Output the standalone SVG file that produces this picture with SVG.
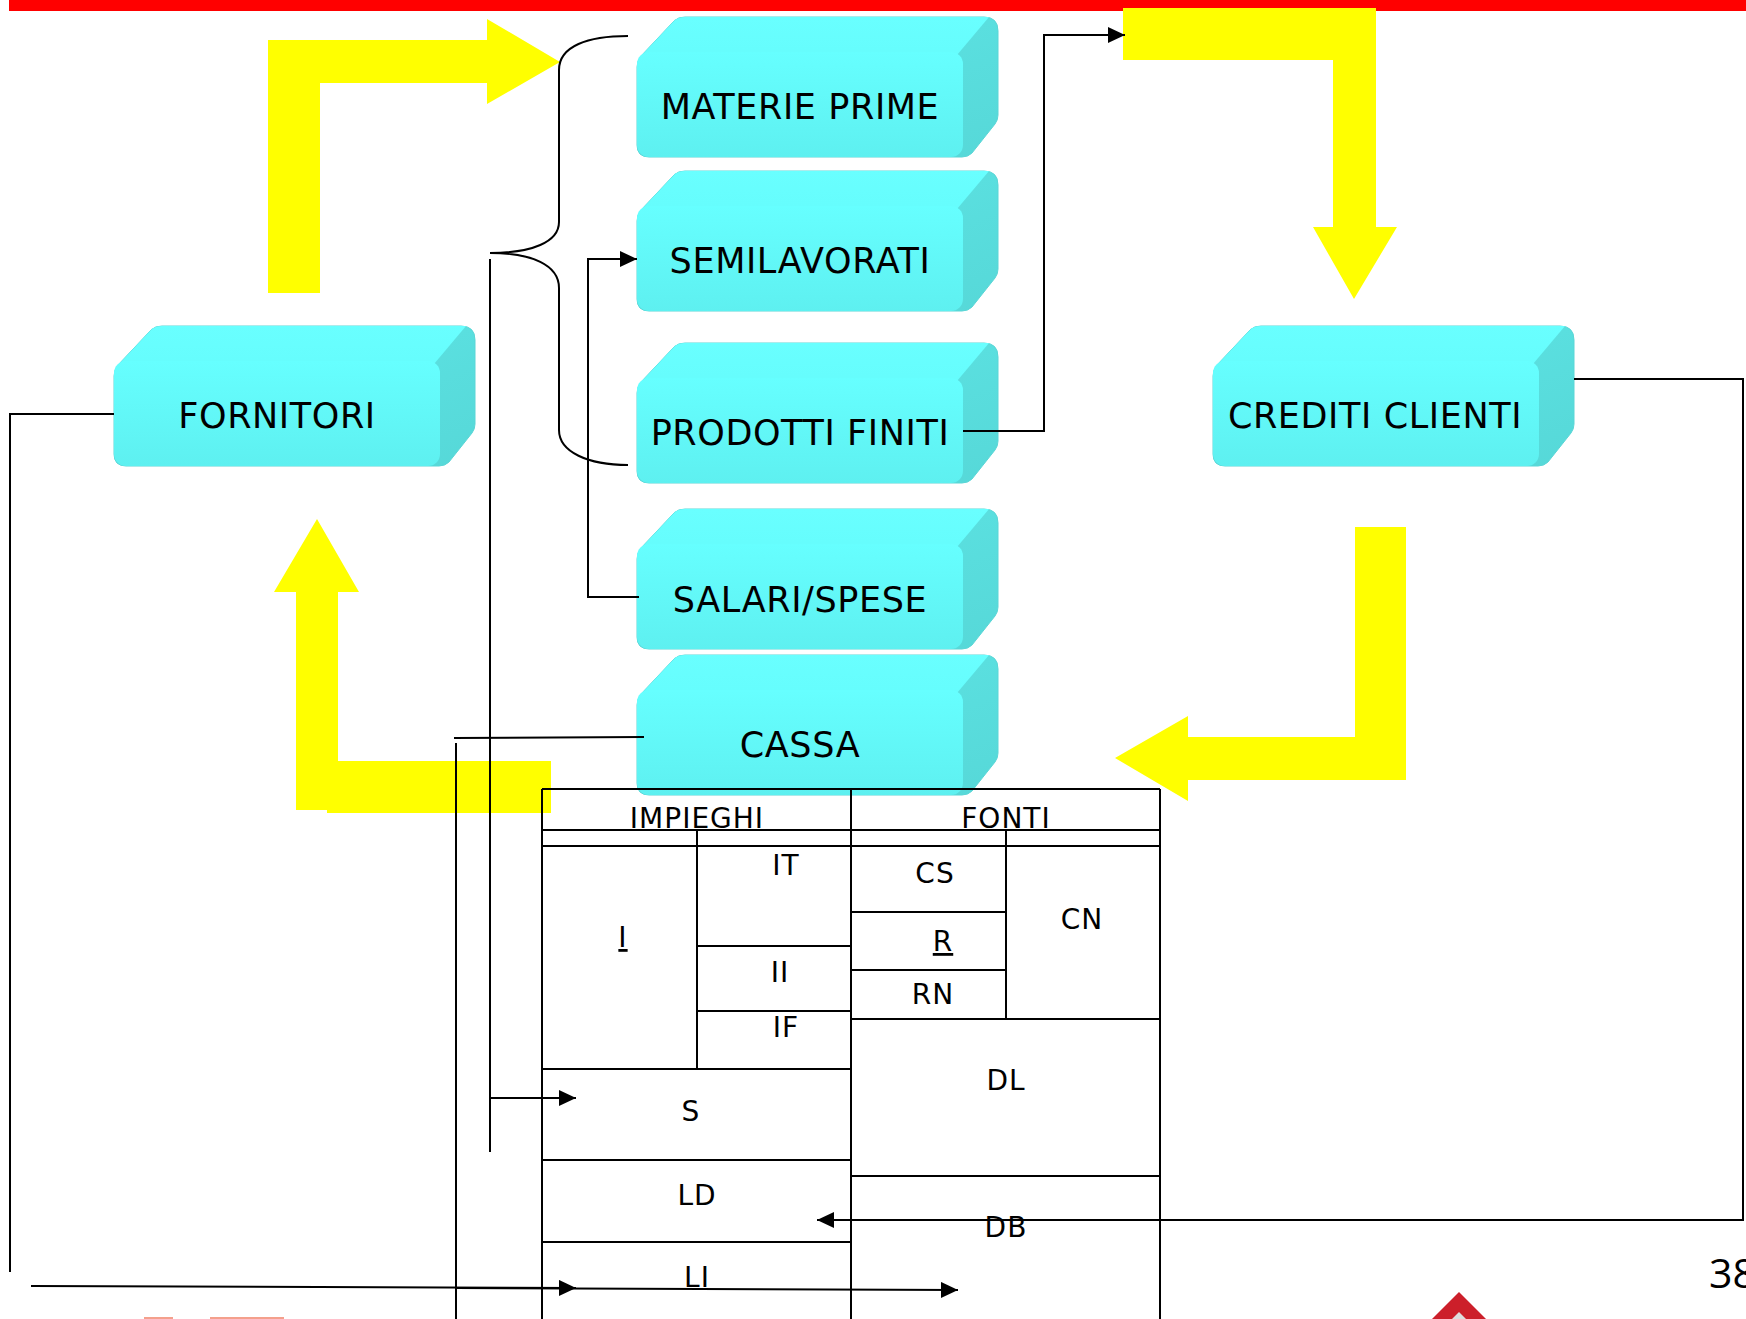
<svg xmlns="http://www.w3.org/2000/svg" xmlns:xlink="http://www.w3.org/1999/xlink" width="1746" height="1319" viewBox="0 0 1746 1319">
<style>
.lbl{font-family:"DejaVu Sans",Verdana,sans-serif;font-size:35px;text-anchor:middle;fill:#000;letter-spacing:0.6px}
.tbl{font-family:"DejaVu Sans",Verdana,sans-serif;font-size:28px;text-anchor:middle;fill:#000;letter-spacing:1px}
.ln{stroke:#000;stroke-width:2;fill:none}
.yel{fill:#FFFF00}
</style>
<defs>
<linearGradient id="gFront" x1="0" y1="0" x2="0" y2="1">
<stop offset="0" stop-color="#66FFFF"/><stop offset="1" stop-color="#5EF0F0"/>
</linearGradient>
<linearGradient id="gTop" x1="0" y1="0" x2="0" y2="1">
<stop offset="0" stop-color="#69FFFF"/><stop offset="1" stop-color="#64FCFC"/>
</linearGradient>
<linearGradient id="gSide" x1="0" y1="0" x2="1" y2="1">
<stop offset="0" stop-color="#5EE6E6"/><stop offset="1" stop-color="#56D8D8"/>
</linearGradient>
<marker id="arr" viewBox="0 0 17 16" refX="17" refY="8" markerWidth="17" markerHeight="16" markerUnits="userSpaceOnUse" orient="auto">
<path d="M0,0 L17,8 L0,16 Z" fill="#000"/>
</marker>
<g id="cube">
<path fill="url(#gSide)" stroke="#5AD6D6" stroke-width="1" d="M0,50 Q0,44 4,39 L37,4 Q41,0 48,0 L347,0 Q361,0 361,14 L361,98 Q361,103 358,107 L335,136 Q331,140 325,140 L12,140 Q0,140 0,128 Z"/>
<path fill="url(#gTop)" d="M0,50 Q0,44 4,39 L37,4 Q41,0 48,0 L352,0 L320,38 L0,52 Z"/>
<rect x="0" y="35" width="326" height="105" rx="12" fill="url(#gFront)"/>
</g>
</defs>
<rect x="0" y="0" width="1746" height="1319" fill="#fff"/>
<rect x="9" y="0" width="1737" height="11" fill="#FF0000"/>
<g id="flows">
<polygon class="yel" points="268,293 268,40 487,40 487,19 560,62 487,104 487,83 320,83 320,293"/>
<polygon class="yel" points="1123,8 1376,8 1376,227 1397,227 1354,299 1313,227 1333,227 1333,60 1123,60"/>
<polygon class="yel" points="296,592 274,592 317,519 359,592 338,592 338,761 551,761 551,813 327,813 327,810 296,810"/>
<polygon class="yel" points="1355,527 1406,527 1406,780 1188,780 1188,801 1115,758 1188,716 1188,737 1355,737"/>
</g>
<g id="node-materie" transform="translate(637,17)"><use href="#cube"/><text class="lbl" x="163" y="102">MATERIE PRIME</text></g>
<g id="node-semilavorati" transform="translate(637,171)"><use href="#cube"/><text class="lbl" x="163" y="102">SEMILAVORATI</text></g>
<g id="node-prodotti" transform="translate(637,343)"><use href="#cube"/><text class="lbl" x="163" y="102">PRODOTTI FINITI</text></g>
<g id="node-salari" transform="translate(637,509)"><use href="#cube"/><text class="lbl" x="163" y="103">SALARI/SPESE</text></g>
<g id="node-cassa" transform="translate(637,655)"><use href="#cube"/><text class="lbl" x="163" y="102">CASSA</text></g>
<g id="node-fornitori" transform="translate(114,326)"><use href="#cube"/><text class="lbl" x="163" y="102">FORNITORI</text></g>
<g id="node-crediti" transform="translate(1213,326)"><use href="#cube"/><text class="lbl" x="162" y="102">CREDITI CLIENTI</text></g>
<g id="table">
<path class="ln" d="M542,789 H1160 M542,789 V1319 M851,789 V1319 M1160,789 V1319 M542,830 H1160 M542,846 H1160 M697,830 V1069 M1006,830 V1019 M697,946 H851 M697,1011 H851 M542,1069 H851 M542,1160 H851 M542,1242 H851 M851,912 H1006 M851,970 H1006 M851,1019 H1160 M851,1176 H1160"/>
<text class="tbl" x="697" y="828">IMPIEGHI</text>
<text class="tbl" x="1006" y="828">FONTI</text>
<text class="tbl" x="786" y="875">IT</text>
<text class="tbl" x="623" y="947" text-decoration="underline">I</text>
<text class="tbl" x="780" y="982">II</text>
<text class="tbl" x="786" y="1037">IF</text>
<text class="tbl" x="935" y="883">CS</text>
<text class="tbl" x="943" y="951" text-decoration="underline">R</text>
<text class="tbl" x="933" y="1004">RN</text>
<text class="tbl" x="1082" y="929">CN</text>
<text class="tbl" x="1006" y="1090">DL</text>
<text class="tbl" x="691" y="1121">S</text>
<text class="tbl" x="697" y="1205">LD</text>
<text class="tbl" x="1006" y="1237">DB</text>
<text class="tbl" x="697" y="1287">LI</text>
</g>
<g id="connectors">
<path class="ln" d="M963,431 H1044 V35 H1125" marker-end="url(#arr)"/>
<path class="ln" d="M639,597 H588 V259 H637" marker-end="url(#arr)"/>
<path class="ln" d="M628,36 C588,36 559,46 559,70 L559,222 C559,242 532,253 490,253 C532,253 559,265 559,288 L559,430 C559,452 588,465 628,465"/>
<path class="ln" d="M490,259 V1152"/>
<path class="ln" d="M490,1098 H576" marker-end="url(#arr)"/>
<path class="ln" d="M644,737 L454,738"/>
<path class="ln" d="M456,743 V1319"/>
<path class="ln" d="M31,1286 L576,1288" marker-end="url(#arr)"/>
<path class="ln" d="M456,1288 L958,1290" marker-end="url(#arr)"/>
<path class="ln" d="M114,414 H10 V1272"/>
<path class="ln" d="M1574,379 H1743 V1220 H817" marker-end="url(#arr)"/>
</g>
<g id="footer">
<rect x="144" y="1317" width="29" height="2" fill="#F4A08C"/>
<rect x="210" y="1317" width="74" height="2" fill="#F4A08C"/>
<polygon points="1459,1292 1432,1319 1486,1319" fill="#CC1F2A"/>
<polygon points="1459,1312 1452,1319 1466,1319" fill="#DDDDDD"/>
<text x="1709" y="1288" font-family="'Open Sans','Noto Sans',sans-serif" font-size="41" fill="#000">38</text>
</g>
</svg>
